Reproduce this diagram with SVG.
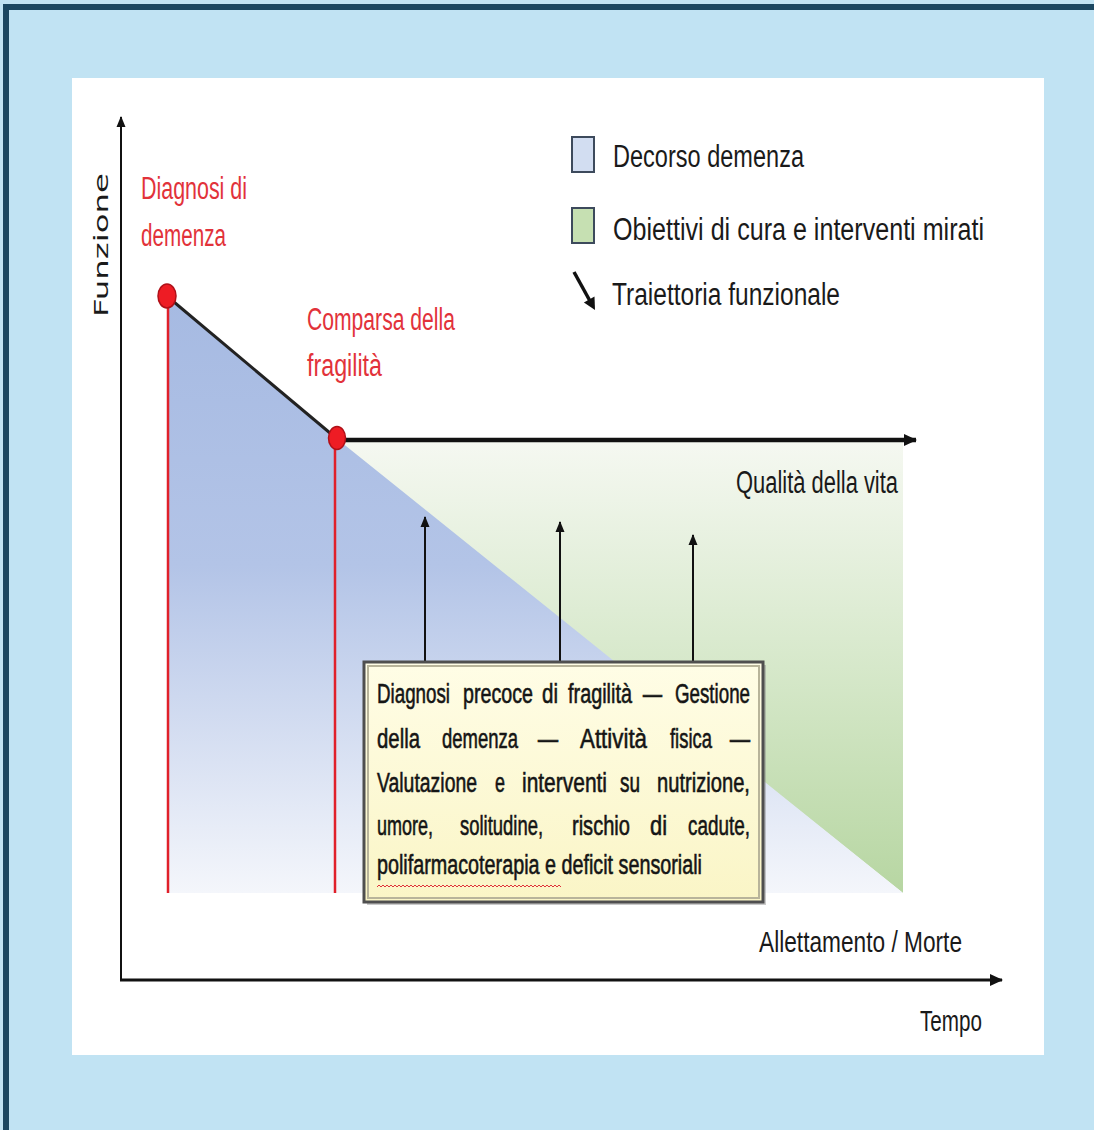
<svg xmlns="http://www.w3.org/2000/svg" width="1094" height="1130" viewBox="0 0 1094 1130">
<defs>
<style>
.t{font-family:"Liberation Sans",Arial,sans-serif;fill:#1a1a1a}
.r{font-family:"Liberation Sans",Arial,sans-serif;fill:#e2323a}
.bx{font-family:"Liberation Sans",Arial,sans-serif;fill:#151515;stroke:#151515;stroke-width:0.6;font-size:28px}
.ax{stroke:#111;fill:none}
.red{stroke:#e0202a;stroke-width:2.5;fill:none}
</style>
<linearGradient id="gBlue" x1="0" y1="297" x2="0" y2="893" gradientUnits="userSpaceOnUse">
<stop offset="0" stop-color="#a6bae2"/>
<stop offset="0.45" stop-color="#b3c4e7"/>
<stop offset="1" stop-color="#f4f6fb"/>
</linearGradient>
<linearGradient id="gGreen" x1="0" y1="442" x2="0" y2="893" gradientUnits="userSpaceOnUse">
<stop offset="0" stop-color="#f5f8f1"/>
<stop offset="0.5" stop-color="#d6e8ca"/>
<stop offset="1" stop-color="#b7d6a2"/>
</linearGradient>
<linearGradient id="gBox" x1="0" y1="0" x2="0" y2="1">
<stop offset="0" stop-color="#fffde6"/>
<stop offset="1" stop-color="#faf5c6"/>
</linearGradient>
<marker id="ahS" markerUnits="userSpaceOnUse" markerWidth="12" markerHeight="12" viewBox="0 0 12 12" refX="10" refY="6" orient="auto">
<path d="M0,1.5 L11,6 L0,10.5 Z" fill="#111"/>
</marker>
<marker id="ahL" markerUnits="userSpaceOnUse" markerWidth="14" markerHeight="14" viewBox="0 0 14 14" refX="12" refY="7" orient="auto">
<path d="M0,1 L13,7 L0,13 Z" fill="#111"/>
</marker>
</defs>

<rect x="0" y="0" width="1094" height="1130" fill="#c1e3f3"/>
<path d="M6,1130 L6,7 L1094,7" fill="none" stroke="#1b4761" stroke-width="6"/>
<rect x="72" y="78" width="972" height="977" fill="#ffffff"/>

<g id="areas">
<polygon points="336,442 903,442 903,893" fill="url(#gGreen)"/>
<polygon points="168,297 336,438 903,893 168,893" fill="url(#gBlue)"/>
</g>

<g id="connectors">
<line class="ax" x1="121" y1="980" x2="121" y2="117" stroke-width="2" marker-end="url(#ahS)"/>
<line class="ax" x1="120" y1="980" x2="1002" y2="980" stroke-width="3" marker-end="url(#ahL)"/>
<line x1="168" y1="297" x2="336" y2="438" stroke="#222" stroke-width="3"/>
<line class="ax" x1="340" y1="440" x2="916" y2="440" stroke-width="4.5" marker-end="url(#ahL)"/>
<line class="red" x1="168" y1="297" x2="168" y2="893"/>
<line class="red" x1="335" y1="438" x2="335" y2="893"/>
<line class="ax" x1="425" y1="662" x2="425" y2="517" stroke-width="2" marker-end="url(#ahS)"/>
<line class="ax" x1="560" y1="662" x2="560" y2="522" stroke-width="2" marker-end="url(#ahS)"/>
<line class="ax" x1="693" y1="662" x2="693" y2="535" stroke-width="2" marker-end="url(#ahS)"/>
</g>

<g id="dot-diagnosi">
<ellipse cx="167" cy="296" rx="9" ry="12" fill="#ee1c24" stroke="#b01018" stroke-width="1.5"/>
</g>
<g id="dot-fragilita">
<ellipse cx="337" cy="438" rx="8.5" ry="11.5" fill="#ee1c24" stroke="#b01018" stroke-width="1.5"/>
</g>

<g id="axis-labels">
<text class="t" transform="translate(108,317) rotate(-90)" style="font-family:'DejaVu Sans',sans-serif" font-size="20" textLength="144" lengthAdjust="spacingAndGlyphs">Funzione</text>
<text class="t" x="920" y="1031" font-size="29" textLength="62" lengthAdjust="spacingAndGlyphs">Tempo</text>
<text class="t" x="759" y="952" font-size="29" textLength="203" lengthAdjust="spacingAndGlyphs">Allettamento / Morte</text>
<text class="t" x="736" y="493" font-size="31" textLength="162" lengthAdjust="spacingAndGlyphs">Qualità della vita</text>
</g>

<g id="label-diagnosi">
<text class="r" x="141" y="199" font-size="31" textLength="106" lengthAdjust="spacingAndGlyphs">Diagnosi di</text>
<text class="r" x="141" y="246" font-size="31" textLength="85" lengthAdjust="spacingAndGlyphs">demenza</text>
</g>
<g id="label-fragilita">
<text class="r" x="307" y="330" font-size="31" textLength="148" lengthAdjust="spacingAndGlyphs">Comparsa della</text>
<text class="r" x="307" y="376" font-size="31" textLength="75" lengthAdjust="spacingAndGlyphs">fragilità</text>
</g>

<g id="legend">
<rect x="572" y="137" width="22" height="35" fill="#d2ddf1" stroke="#3d4a5c" stroke-width="2"/>
<text class="t" x="613" y="167" font-size="31" textLength="191" lengthAdjust="spacingAndGlyphs">Decorso demenza</text>
<rect x="572" y="208" width="22" height="35" fill="#c6e0b2" stroke="#3d4a5c" stroke-width="2"/>
<text class="t" x="613" y="240" font-size="31" textLength="371" lengthAdjust="spacingAndGlyphs">Obiettivi di cura e interventi mirati</text>
<line x1="574" y1="272" x2="590" y2="301" stroke="#111" stroke-width="3.5"/>
<polygon points="595,310 594.5,296.6 583.9,302.4" fill="#111"/>
<text class="t" x="612" y="305" font-size="31" textLength="228" lengthAdjust="spacingAndGlyphs">Traiettoria funzionale</text>
</g>

<g id="box-interventi">
<rect x="367" y="665" width="399" height="240" fill="#8a8a8a" opacity="0.45"/>
<rect x="364" y="662" width="399" height="240" fill="url(#gBox)" stroke="#4f4f4f" stroke-width="3"/>
<rect x="368" y="666" width="391" height="232" fill="none" stroke="#b8b49a" stroke-width="2"/>
<g transform="translate(377,0) scale(0.67,1)">
<text class="bx" x="0" y="703" textLength="109" lengthAdjust="spacingAndGlyphs">Diagnosi</text>
<text class="bx" x="128.4" y="703" textLength="104.5" lengthAdjust="spacingAndGlyphs">precoce</text>
<text class="bx" x="246.3" y="703" textLength="23.9" lengthAdjust="spacingAndGlyphs">di</text>
<text class="bx" x="285.1" y="703" textLength="95.5" lengthAdjust="spacingAndGlyphs">fragilità</text>
<text class="bx" x="397" y="703" textLength="28.4" lengthAdjust="spacingAndGlyphs">–</text>
<text class="bx" x="444.8" y="703" textLength="111.9" lengthAdjust="spacingAndGlyphs">Gestione</text>
<text class="bx" x="0" y="748" textLength="64.2" lengthAdjust="spacingAndGlyphs">della</text>
<text class="bx" x="97" y="748" textLength="113.4" lengthAdjust="spacingAndGlyphs">demenza</text>
<text class="bx" x="240.3" y="748" textLength="29.9" lengthAdjust="spacingAndGlyphs">–</text>
<text class="bx" x="303" y="748" textLength="100" lengthAdjust="spacingAndGlyphs">Attività</text>
<text class="bx" x="437.3" y="748" textLength="62.7" lengthAdjust="spacingAndGlyphs">fisica</text>
<text class="bx" x="526.9" y="748" textLength="29.9" lengthAdjust="spacingAndGlyphs">–</text>
<text class="bx" x="0" y="792" textLength="149.3" lengthAdjust="spacingAndGlyphs">Valutazione</text>
<text class="bx" x="176.1" y="792" textLength="14.9" lengthAdjust="spacingAndGlyphs">e</text>
<text class="bx" x="216.4" y="792" textLength="126.9" lengthAdjust="spacingAndGlyphs">interventi</text>
<text class="bx" x="362.7" y="792" textLength="29.9" lengthAdjust="spacingAndGlyphs">su</text>
<text class="bx" x="417.9" y="792" textLength="138.8" lengthAdjust="spacingAndGlyphs">nutrizione,</text>
<text class="bx" x="0" y="835" textLength="83.6" lengthAdjust="spacingAndGlyphs">umore,</text>
<text class="bx" x="123.9" y="835" textLength="123.9" lengthAdjust="spacingAndGlyphs">solitudine,</text>
<text class="bx" x="291" y="835" textLength="86.6" lengthAdjust="spacingAndGlyphs">rischio</text>
<text class="bx" x="407.5" y="835" textLength="25.4" lengthAdjust="spacingAndGlyphs">di</text>
<text class="bx" x="464.2" y="835" textLength="92.5" lengthAdjust="spacingAndGlyphs">cadute,</text>
<text class="bx" x="0" y="874" textLength="485.1" lengthAdjust="spacingAndGlyphs">polifarmacoterapia e deficit sensoriali</text>
</g>
<path d="M377,887 l2,-2 l2,2 l2,-2 l2,2 l2,-2 l2,2 l2,-2 l2,2 l2,-2 l2,2 l2,-2 l2,2 l2,-2 l2,2 l2,-2 l2,2 l2,-2 l2,2 l2,-2 l2,2 l2,-2 l2,2 l2,-2 l2,2 l2,-2 l2,2 l2,-2 l2,2 l2,-2 l2,2 l2,-2 l2,2 l2,-2 l2,2 l2,-2 l2,2 l2,-2 l2,2 l2,-2 l2,2 l2,-2 l2,2 l2,-2 l2,2 l2,-2 l2,2 l2,-2 l2,2 l2,-2 l2,2 l2,-2 l2,2 l2,-2 l2,2 l2,-2 l2,2 l2,-2 l2,2 l2,-2 l2,2 l2,-2 l2,2 l2,-2 l2,2 l2,-2 l2,2 l2,-2 l2,2 l2,-2 l2,2 l2,-2 l2,2 l2,-2 l2,2 l2,-2 l2,2 l2,-2 l2,2 l2,-2 l2,2 l2,-2 l2,2 l2,-2 l2,2 l2,-2 l2,2 l2,-2 l2,2 l2,-2 l2,2 l2,-2 l2,2" fill="none" stroke="#e0303a" stroke-width="1"/>
</g>
</svg>
